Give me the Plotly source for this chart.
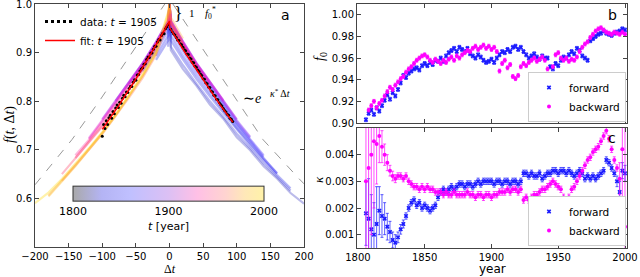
import plotly.graph_objects as go
from plotly.colors import sample_colorscale

N = None
# ---------------- panel a data ----------------
DT_GRID = [-200, -180, -160, -140, -120, -100, -80, -60, -40, -20, -2, 0,
           2, 20, 40, 60, 80, 100, 120, 140, 160, 180, 200]
LINE_YEARS = [1800, 1810, 1820, 1830, 1840, 1850, 1860, 1870, 1880, 1890, 1900,
              1910, 1920, 1930, 1940, 1950, 1960, 1970, 1980, 1990, 2000]
LINE_VALUES = [
    [N, N, N, N, N, N, N, N, N, N, N, 1.0, .905, .866, .832, .793, .764, .726, .699, .666, .641, .611, .589],
    [N, N, N, N, N, N, N, N, N, N, .912, 1.0, .912, .874, .836, .800, .768, .733, .703, .672, .644, .616, N],
    [N, N, N, N, N, N, N, N, N, .885, .925, 1.0, .925, .886, .846, .810, .776, .741, .709, .678, .648, .621, N],
    [N, N, N, N, N, N, N, N, N, .893, .935, 1.0, .935, .893, .853, .816, .781, .745, .713, .681, .652, N, N],
    [N, N, N, N, N, N, N, N, .862, .903, .945, 1.0, .945, .903, .861, .823, .786, .750, .716, .683, .651, N, N],
    [N, N, N, N, N, N, N, N, .868, .910, .952, 1.0, .952, .909, .867, .828, .791, .753, .719, .686, N, N, N],
    [N, N, N, N, N, N, N, .835, .872, .915, .957, 1.0, .957, .914, .871, .832, .794, .756, .722, .689, N, N, N],
    [N, N, N, N, N, N, N, .837, .875, .917, .960, 1.0, .960, .917, .874, .835, .797, .759, .725, N, N, N, N],
    [N, N, N, N, N, N, .800, .839, .877, .920, .963, 1.0, .963, .920, .876, .838, .800, .761, .727, N, N, N, N],
    [N, N, N, N, N, N, .801, .840, .878, .921, .965, 1.0, .965, .922, .878, .839, .801, .762, N, N, N, N, N],
    [N, N, N, N, N, .763, .802, .841, .879, .922, .966, 1.0, .966, .922, .879, .840, .802, .763, N, N, N, N, N],
    [N, N, N, N, N, .762, .800, .840, .878, .922, .966, 1.0, .966, .923, .879, .840, .802, N, N, N, N, N, N],
    [N, N, N, N, .724, .760, .798, .837, .876, .920, .964, 1.0, .964, .921, .877, .839, .800, N, N, N, N, N, N],
    [N, N, N, N, .722, .758, .796, .835, .874, .918, .962, 1.0, .962, .919, .875, .837, N, N, N, N, N, N, N],
    [N, N, N, .689, .720, .756, .794, .833, .872, .916, .960, 1.0, .960, .917, .874, .835, N, N, N, N, N, N, N],
    [N, N, N, .683, .716, .750, .787, .826, .865, .910, .958, 1.0, .958, .915, .872, N, N, N, N, N, N, N, N],
    [N, N, .650, .682, .714, .748, .785, .824, .863, .908, .958, 1.0, .958, .915, .872, N, N, N, N, N, N, N, N],
    [N, N, .636, .667, .700, .733, .770, .808, .848, .895, .962, 1.0, .962, .919, N, N, N, N, N, N, N, N, N],
    [N, .606, .636, .668, .701, .735, .772, .811, .852, .898, .972, 1.0, .972, .929, N, N, N, N, N, N, N, N, N],
    [N, .604, .634, .666, .700, .733, .770, .810, .852, .900, .980, 1.0, .980, N, N, N, N, N, N, N, N, N, N],
    [.590, .612, .640, .671, .703, .736, .773, .813, .855, .902, .984, 1.0, N, N, N, N, N, N, N, N, N, N, N],
]

DATA_DT = list(range(-100, 0, 2)) + list(range(2, 96, 2))
DATA_F = [
    .728, .752, .744, .760, .752, .766, .771, .765, .779, .774,
    .786, .792, .787, .798, .796, .806, .812, .809, .819, .818,
    .826, .831, .830, .839, .844, .843, .854, .855, .862, .866,
    .869, .876, .877, .886, .891, .890, .899, .899, .907, .913,
    .913, .922, .927, .926, .935, .940, .939, .949, .953, .958,
    .948, .943, .939, .936, .931, .926, .925, .918, .916, .911,
    .906, .904, .897, .896, .889, .887, .880, .879, .872, .870,
    .864, .861, .856, .853, .846, .845, .838, .836, .829, .828,
    .821, .819, .812, .811, .804, .803, .797, .793, .790, .785,
    .781, .778, .773, .771, .765, .763, .758,
]
FIT_DT = [-100, -75, -50, -25, 0, 0, 25, 50, 75, 94]
FIT_F = [0.742, 0.792, 0.846, 0.904, 0.965, 0.952, 0.896, 0.844, 0.793, 0.757]

GUIDE_L_DT = [-200, -145, -103, -44, -7]
GUIDE_L_F = [0.628, 0.721, 0.803, 0.925, 1.0]
GUIDE_R_DT = [5, 60, 139, 193, 200]
GUIDE_R_F = [1.0, 0.885, 0.721, 0.64, 0.63]

CBAR_TICKS = [1800, 1900, 2000]

# ---------------- panels b, c data ----------------
YEARS = list(range(1806, 2001, 2))
B_FWD = [
    .903, .909, .912, .908, .914, .911, .916, .921, .926, .922,
    .928, .925, .931, .937, .944, .942, .946, .948, .950, .951,
    .949, .953, .955, .953, .956, .954, .958, .957, .960, .957,
    .962, .965, .967, .969, .966, .970, .968, .966, .969, .964,
    .962, .960, .963, .961, .958, .956, .957, .959, .956, .960,
    .963, .966, .965, .968, .966, .970, .971, .968, .970, .966,
    .963, .960, .962, .964, .961, .959, .962, .960, .960, .952,
    .950, .955, .953, .958, .961, .960, .963, .966, .964, .969,
    .967, .962, .960, .958, .976, .978, .980, .982, .983, .985,
    .983, .982, .981, .983, .984, .985, .987, .986,
]
B_BWD = [
    N, .912, .916, .920, .914, .918, .921, .925, .929, .933,
    .931, .935, .938, .941, .943, .947, .950, .952, .955, .958,
    .960, .962, .963, .961, .958, .956, .959, .957, .955, .958,
    .956, .959, .961, .958, .962, .960, .963, .965, .967, .966,
    .969, .971, .968, .970, .972, .969, .971, .968, .970, .966,
    .948, .955, .958, .951, .954, .943, .941, .944, .952, .955,
    .953, .956, .958, .960, .957, .959, .961, .958, .950, .942,
    .952, .963, .965, .960, .958, .960, .957, .959, .958, .961,
    .966, .970, .973, .975, .979, .982, .985, .987, .988, .986,
    .984, .983, .982, .984, .983, .982, .984, .982,
]
C_FWD = [
    .0018, .0016, .0012, .0010, .0014, .0019, .0017, .0016, .0013, .0011,
    .0008, .0007, .0009, .0012, .0014, .0017, .0020, .0022, .0023, .0021,
    .0022, .0020, .0021, .0020, .0019, .0020, .0021, .0024, .0026, .0027,
    .0026, .0027, .0028, .0027, .0028, .0029, .0029, .0028, .0029, .0029,
    .0028, .0029, .0030, .0029, .0030, .0030, .0030, .0030, .0029, .0030,
    .0030, .0029, .0030, .0030, .0029, .0030, .0030, .0029, .0030, .0033,
    .0033, .0032, .0033, .0032, .0032, .0033, .0031, .0032, .0033, .0033,
    .0034, .0034, .0033, .0034, .0034, .0033, .0034, .0033, .0032, .0033,
    .0034, .0033, .0031, .0032, .0031, .0032, .0031, .0032, .0033, .0034,
    .0038, .0037, .0035, .0033, .0030, .0026, .0034, .0033,
]
C_BWD = [
    .0030, .0035, .0040, .0045, .0044, .0047, .0043, .0040, .0037, .0034,
    .0032, .0031, .0032, .0032, .0031, .0032, .0030, .0029, .0028, .0028,
    .0027, .0028, .0027, .0028, .0027, .0027, .0026, .0026, .0026, .0025,
    .0026, .0025, .0025, .0026, .0025, .0025, .0025, .0025, .0026, .0025,
    .0025, .0024, .0025, .0025, .0024, .0025, .0025, .0024, .0025, .0025,
    .0026, .0026, .0026, .0027, .0026, .0027, .0027, .0026, .0027, .0023,
    .0024, .0023, .0024, .0025, .0025, .0026, .0027, .0027, .0028, .0029,
    .0030, .0029, .0028, .0027, .0024, .0023, .0024, .0027, .0028, .0030,
    .0032, .0034, .0036, .0038, .0039, .0041, .0042, .0043, .0045, .0047,
    .0049, .0046, .0042, .0038, .0035, .0031, .0042, .0013,
]
B_ERR = 0.0018
C_FWD_ERR = ([.0012, .0015, .0013, .0012, .0014, .0009, .0008, .0006, .0005, .0004,
              .0003, .0003, .0002, .00018, .00015] + [.00012] * 79 +
             [.0002, .0004, .0003, .0003])
C_BWD_ERR = ([.004, .004, .003, .0025, .0015, .001, .0006, .0004, .0003, .0002,
              .00018, .00015] + [.00012] * 83 + [.0006, .003, .004])

# ---------------- styling ----------------
W, H = 640, 277
def px(x): return x / W
def py(y): return 1 - y / H

SANS = "DejaVu Sans"
SERIF = "Liberation Serif"
LINE_SCALE = [[0, '#3030c0'], [0.12, '#2020f0'], [0.3, '#4a30ff'], [0.45, '#9a28f0'],
              [0.58, '#d820e0'], [0.7, '#ff2aa0'], [0.8, '#ff3a60'], [0.9, '#ffa030'], [1, '#ffd700']]
CBAR_SCALE = [[0, '#a9a9a9'], [0.15, '#b4b4f4'], [0.3, '#c0c0ff'], [0.5, '#dcc0f4'],
              [0.65, '#ffc0e6'], [0.8, '#ffd4d0'], [0.9, '#ffe8b8'], [1, '#fff2a8']]
FWD_C = '#1a1aff'
BWD_C = '#ff00ff'

fig = go.Figure()

# colored lines
for yr, row in zip(LINE_YEARS, LINE_VALUES):
    xs = [d for d, v in zip(DT_GRID, row) if v is not None]
    ys = [v for v in row if v is not None]
    c = sample_colorscale(LINE_SCALE, [(yr - 1800) / 200], colortype='tuple')[0]
    rgb = tuple(int(round(255 * k)) if k <= 1 else int(k) for k in c)
    fig.add_trace(go.Scatter(x=xs, y=ys, mode='lines',
                             line=dict(color='rgba(%d,%d,%d,0.33)' % rgb, width=2.2),
                             showlegend=False, hoverinfo='skip', xaxis='x', yaxis='y'))

# guides
for gx, gy in ((GUIDE_L_DT, GUIDE_L_F), (GUIDE_R_DT, GUIDE_R_F)):
    fig.add_trace(go.Scatter(x=gx, y=gy, mode='lines', line=dict(color='#999', width=1, dash='dash'),
                             showlegend=False, hoverinfo='skip', xaxis='x', yaxis='y'))

# data dots + fit
fig.add_trace(go.Scatter(x=DATA_DT, y=DATA_F, mode='markers', marker=dict(color='black', size=3),
                         showlegend=False, xaxis='x', yaxis='y'))
fig.add_trace(go.Scatter(x=[None], y=[None], mode='lines', name='data: <i>t</i> = 1905',
                         line=dict(color='black', width=3, dash='dot'), legend='legend',
                         xaxis='x', yaxis='y'))
fig.add_trace(go.Scatter(x=FIT_DT, y=FIT_F, mode='lines', name='fit: <i>t</i> = 1905',
                         line=dict(color='red', width=1.5), legend='legend', xaxis='x', yaxis='y'))

# colorbar carrier
fig.add_trace(go.Scatter(
    x=[-1000, -1000], y=[0, 0], mode='markers', showlegend=False, hoverinfo='skip',
    marker=dict(color=[1800, 2000], cmin=1800, cmax=2000, colorscale=CBAR_SCALE, showscale=True,
                colorbar=dict(orientation='h', x=px(168.5), xanchor='center', y=py(209.5),
                              yanchor='middle', len=191, lenmode='pixels', thickness=15,
                              thicknessmode='pixels', outlinewidth=1, outlinecolor='#333',
                              tickvals=CBAR_TICKS, ticks='', xpad=0, ypad=0,
                              tickfont=dict(family=SANS, size=11, color='black'),
                              title=dict(text='<i>t</i> [year]', side='bottom',
                                         font=dict(family=SANS, size=11, color='black')))),
    xaxis='x', yaxis='y'))

# panel b
fig.add_trace(go.Scatter(x=YEARS, y=B_FWD, mode='markers', name='forward',
                         marker=dict(symbol='x', size=4, color=FWD_C),
                         error_y=dict(type='constant', value=B_ERR, color=FWD_C, thickness=0.7, width=1.5),
                         legend='legend2', xaxis='x2', yaxis='y2'))
fig.add_trace(go.Scatter(x=YEARS, y=B_BWD, mode='markers', name='backward',
                         marker=dict(symbol='circle', size=4, color=BWD_C),
                         error_y=dict(type='constant', value=B_ERR, color=BWD_C, thickness=0.7, width=1.5),
                         legend='legend2', xaxis='x2', yaxis='y2'))
# panel c
fig.add_trace(go.Scatter(x=YEARS, y=C_FWD, mode='markers', name='forward',
                         marker=dict(symbol='x', size=4, color=FWD_C),
                         error_y=dict(type='data', array=C_FWD_ERR, color=FWD_C, thickness=0.7, width=1.5),
                         legend='legend3', xaxis='x3', yaxis='y3'))
fig.add_trace(go.Scatter(x=YEARS, y=C_BWD, mode='markers', name='backward',
                         marker=dict(symbol='circle', size=4, color=BWD_C),
                         error_y=dict(type='data', array=C_BWD_ERR, color=BWD_C, thickness=0.7, width=1.5),
                         legend='legend3', xaxis='x3', yaxis='y3'))

ax = dict(showgrid=False, zeroline=False, showline=True, linecolor='#444', linewidth=1,
          mirror='allticks', ticks='inside', ticklen=4, tickcolor='#444', automargin=False,
          tickangle=0, tickfont=dict(family=SANS, size=10, color='black'))

fig.update_layout(
    width=W, height=H, margin=dict(l=0, r=0, t=0, b=0, autoexpand=False),
    paper_bgcolor='white', plot_bgcolor='white',
    font=dict(family=SANS, size=11, color='black'),
    xaxis=dict(ax, domain=[px(35), px(304)], range=[-200, 200], tickvals=list(range(-200, 201, 50)),
               anchor='y'),
    yaxis=dict(ax, domain=[py(247), py(4)], range=[0.5, 1.0], tickvals=[0.6, 0.7, 0.8, 0.9, 1.0],
               tickformat='.1f', anchor='x'),
    xaxis2=dict(ax, domain=[px(357), px(627)], range=[1799.3, 2001.5], tickvals=[1800, 1850, 1900, 1950, 2000],
                showticklabels=False, anchor='y2'),
    yaxis2=dict(ax, domain=[py(123), py(4)], range=[0.90, 1.01], tickvals=[0.90, 0.92, 0.94, 0.96, 0.98, 1.00],
                tickformat='.2f', anchor='x2'),
    xaxis3=dict(ax, domain=[px(357), px(627)], range=[1799.3, 2001.5], tickvals=[1800, 1850, 1900, 1950, 2000],
                anchor='y3'),
    yaxis3=dict(ax, domain=[py(248), py(128)], range=[0.0005, 0.005], tickvals=[0.001, 0.002, 0.003, 0.004],
                tickformat='.3f', anchor='x3'),
    legend=dict(x=px(40), y=py(7), xanchor='left', yanchor='top', bgcolor='rgba(0,0,0,0)',
                font=dict(family=SANS, size=10.5), tracegroupgap=0, itemwidth=30),
    legend2=dict(x=px(626), y=py(122), xanchor='right', yanchor='bottom', bgcolor='white',
                 bordercolor='#ccc', borderwidth=1, font=dict(family=SANS, size=10.5), itemwidth=30),
    legend3=dict(x=px(626), y=py(246), xanchor='right', yanchor='bottom', bgcolor='white',
                 bordercolor='#ccc', borderwidth=1, font=dict(family=SANS, size=10.5), itemwidth=30),
    showlegend=True,
)

def note(x, y, text, size=11, family=SANS, angle=0):
    fig.add_annotation(x=px(x), y=py(y), xref='paper', yref='paper', text=text, showarrow=False,
                       font=dict(family=family, size=size, color='black'), textangle=angle,
                       xanchor='center', yanchor='middle')

note(285, 15, 'a', 14)
note(612, 15, 'b', 14)
note(612, 138, 'c', 14)
note(178, 13, '}', 18, SERIF)
note(192, 13, '1', 11, SERIF)
note(210, 13, '<i>f</i><sub>0</sub><sup>*</sup>', 11, SERIF)
note(252, 99, '∼<i>e</i>', 14, SERIF)
note(280, 93, '<i>κ</i><sup>*</sup> Δ<i>t</i>', 10, SERIF)
note(10, 125, '<i>f</i>(<i>t</i>, Δ<i>t</i>)', 14, SERIF, -90)
note(170, 269, 'Δ<i>t</i>', 12, SERIF)
note(492, 269, 'year', 12, SANS)
note(320, 57, '<i>f</i><sub>0</sub>', 14, SERIF, -90)
note(318, 180, '<i>κ</i>', 13, SERIF, -90)

fig.write_html("out.html", config={'displayModeBar': False},
               post_script="document.body.style.margin='0';document.body.style.padding='0';"
                           "document.documentElement.style.overflow='hidden';")
